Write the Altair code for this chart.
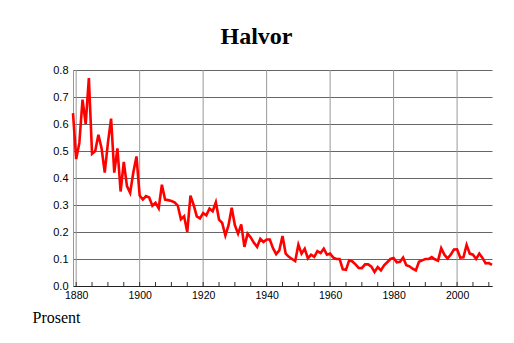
import altair as alt
import pandas as pd

years = list(range(1879, 2012))
values = [
    0.64, 0.47, 0.53, 0.69, 0.60, 0.77, 0.49, 0.50, 0.56, 0.51,   # 1879-1888
    0.42, 0.53, 0.62, 0.42, 0.51, 0.35, 0.46, 0.37, 0.345, 0.42,  # 1889-1898
    0.48, 0.335, 0.32, 0.333, 0.328, 0.297, 0.308, 0.288, 0.375, 0.32,  # 1899-1908
    0.318, 0.315, 0.31, 0.298, 0.247, 0.258, 0.20, 0.335, 0.30, 0.258,  # 1909-1918
    0.25, 0.27, 0.262, 0.287, 0.277, 0.31, 0.246, 0.234, 0.187, 0.225,  # 1919-1928
    0.29, 0.225, 0.194, 0.228, 0.145, 0.194, 0.18, 0.16, 0.145, 0.175,  # 1929-1938
    0.163, 0.172, 0.172, 0.14, 0.118, 0.132, 0.185, 0.12, 0.108, 0.10,  # 1939-1948
    0.092, 0.153, 0.12, 0.138, 0.102, 0.116, 0.108, 0.129, 0.122, 0.138,  # 1949-1958
    0.116, 0.12, 0.105, 0.10, 0.10, 0.062, 0.06, 0.095, 0.091, 0.08,  # 1959-1968
    0.067, 0.066, 0.08, 0.08, 0.072, 0.052, 0.07, 0.058, 0.077, 0.088,  # 1969-1978
    0.10, 0.104, 0.088, 0.09, 0.105, 0.077, 0.073, 0.064, 0.058, 0.09,  # 1979-1988
    0.095, 0.10, 0.10, 0.107, 0.099, 0.094, 0.14, 0.116, 0.102, 0.116,  # 1989-1998
    0.135, 0.136, 0.105, 0.106, 0.152, 0.12, 0.116, 0.10, 0.12, 0.104,  # 1999-2008
    0.084, 0.085, 0.078,  # 2009-2011
]

x_major = [1880, 1900, 1920, 1940, 1960, 1980, 2000]
x_minor = list(range(1880, 2012, 5))
y_ticks = [0.0, 0.1, 0.2, 0.3, 0.4, 0.5, 0.6, 0.7, 0.8]

df = pd.DataFrame({"year": years, "value": values})
ticks_df = pd.DataFrame({"year": x_minor})
major_df = pd.DataFrame({"year": x_major})

x_scale = alt.Scale(domain=[1879, 2011], nice=False, zero=False)
y_scale = alt.Scale(domain=[0, 0.8], nice=False)

x_axis = alt.Axis(
    values=x_major,
    format="d",
    title=None,
    grid=False,
    ticks=False,
    domainColor="#222222",
    labelFont="Liberation Sans",
    labelFontSize=10.5,
    labelColor="#000000",
    labelPadding=4,
)

vgrid = alt.Chart(major_df).mark_rule(color="#999999", strokeWidth=1).encode(
    x=alt.X("year:Q", scale=x_scale, axis=x_axis),
    y=alt.value(0),
    y2=alt.value(216),
)

line = alt.Chart(df).mark_line(color="#ff0000", strokeWidth=2.6).encode(
    x=alt.X("year:Q", scale=x_scale, axis=x_axis),
    y=alt.Y(
        "value:Q",
        scale=y_scale,
        axis=alt.Axis(
            values=y_ticks,
            format=".1f",
            grid=True,
            gridColor="#666666",
            gridWidth=1,
            ticks=False,
            domainColor="#999999",
            labelFont="Liberation Sans",
            labelFontSize=11,
            labelColor="#000000",
            labelPadding=5,
            title="Prosent",
            titleAngle=0,
            titleX=-41,
            titleY=252,
            titleAlign="left",
            titleBaseline="alphabetic",
            titleFont="Liberation Serif",
            titleFontSize=16,
            titleFontWeight="normal",
            titleColor="#000000",
        ),
    ),
)

minor = alt.Chart(ticks_df).mark_rule(color="#333333", strokeWidth=1).encode(
    x=alt.X("year:Q", scale=x_scale, axis=x_axis),
    y=alt.value(216),
    y2=alt.value(212),
)

chart = alt.layer(vgrid, line, minor).properties(
    width=419,
    height=216,
    autosize=alt.AutoSizeParams(type="none"),
    padding={"left": 73, "top": 70, "right": 22, "bottom": 57},
    title=alt.Title(
        "Halvor",
        font="Liberation Serif",
        fontSize=24,
        fontWeight="bold",
        color="#000000",
        anchor="middle",
        frame="group",
        dx=-26,
        dy=32,
        offset=28,
        baseline="alphabetic",
    ),
).configure(background="#ffffff").configure_view(stroke="transparent", strokeWidth=0, strokeOpacity=0)

chart.save("out.html", embed_options={"renderer": "svg", "actions": False})
